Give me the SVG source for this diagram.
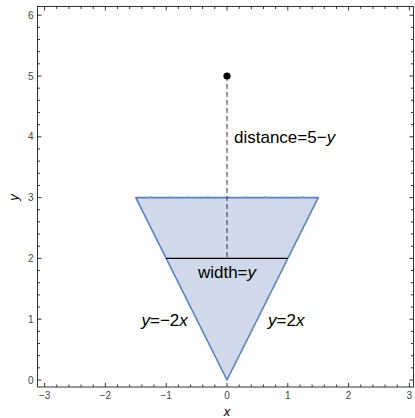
<svg xmlns="http://www.w3.org/2000/svg" width="415" height="418" viewBox="0 0 415 418">
<style>
.frame{fill:none;stroke:#333;stroke-width:1}
.tk{fill:none;stroke:#333;stroke-width:1}
.tl{font-family:"Liberation Sans",Arial,sans-serif;font-size:10px;fill:#444}
.tly{font-family:"Liberation Sans",Arial,sans-serif;font-size:10px;fill:#444;text-anchor:end}
.lab{font-family:"Liberation Sans",Arial,sans-serif;font-size:17px;fill:#000}
.ax{font-family:"Liberation Sans",Arial,sans-serif;font-size:13px;font-style:italic;fill:#000}
.it{font-style:italic}
</style>
<rect width="415" height="418" fill="#fff"/>
<g id="frame">
<rect class="frame" x="37.5" y="6.5" width="376" height="380.5"/>
<path class="tk" d="M44.6 387v-4M105.4 387v-4M166.2 387v-4M227 387v-4M287.8 387v-4M348.6 387v-4M409.4 387v-4M44.6 6.5v4M105.4 6.5v4M166.2 6.5v4M227 6.5v4M287.8 6.5v4M348.6 6.5v4M409.4 6.5v4"/>
<path class="tk" d="M56.76 387v-2.5M68.92 387v-2.5M81.08 387v-2.5M93.24 387v-2.5M117.56 387v-2.5M129.72 387v-2.5M141.88 387v-2.5M154.04 387v-2.5M178.36 387v-2.5M190.52 387v-2.5M202.68 387v-2.5M214.84 387v-2.5M239.16 387v-2.5M251.32 387v-2.5M263.48 387v-2.5M275.64 387v-2.5M299.96 387v-2.5M312.12 387v-2.5M324.28 387v-2.5M336.44 387v-2.5M360.76 387v-2.5M372.92 387v-2.5M385.08 387v-2.5M397.24 387v-2.5M56.76 6.5v2.5M68.92 6.5v2.5M81.08 6.5v2.5M93.24 6.5v2.5M117.56 6.5v2.5M129.72 6.5v2.5M141.88 6.5v2.5M154.04 6.5v2.5M178.36 6.5v2.5M190.52 6.5v2.5M202.68 6.5v2.5M214.84 6.5v2.5M239.16 6.5v2.5M251.32 6.5v2.5M263.48 6.5v2.5M275.64 6.5v2.5M299.96 6.5v2.5M312.12 6.5v2.5M324.28 6.5v2.5M336.44 6.5v2.5M360.76 6.5v2.5M372.92 6.5v2.5M385.08 6.5v2.5M397.24 6.5v2.5"/>
<path class="tk" d="M37.5 380h4M37.5 319.2h4M37.5 258.4h4M37.5 197.6h4M37.5 136.8h4M37.5 76h4M37.5 15.2h4M413.5 380h-4M413.5 319.2h-4M413.5 258.4h-4M413.5 197.6h-4M413.5 136.8h-4M413.5 76h-4M413.5 15.2h-4"/>
<path class="tk" d="M37.5 367.84h2.5M37.5 355.68h2.5M37.5 343.52h2.5M37.5 331.36h2.5M37.5 307.04h2.5M37.5 294.88h2.5M37.5 282.72h2.5M37.5 270.56h2.5M37.5 246.24h2.5M37.5 234.08h2.5M37.5 221.92h2.5M37.5 209.76h2.5M37.5 185.44h2.5M37.5 173.28h2.5M37.5 161.12h2.5M37.5 148.96h2.5M37.5 124.64h2.5M37.5 112.48h2.5M37.5 100.32h2.5M37.5 88.16h2.5M37.5 63.84h2.5M37.5 51.68h2.5M37.5 39.52h2.5M37.5 27.36h2.5M413.5 367.84h-2.5M413.5 355.68h-2.5M413.5 343.52h-2.5M413.5 331.36h-2.5M413.5 307.04h-2.5M413.5 294.88h-2.5M413.5 282.72h-2.5M413.5 270.56h-2.5M413.5 246.24h-2.5M413.5 234.08h-2.5M413.5 221.92h-2.5M413.5 209.76h-2.5M413.5 185.44h-2.5M413.5 173.28h-2.5M413.5 161.12h-2.5M413.5 148.96h-2.5M413.5 124.64h-2.5M413.5 112.48h-2.5M413.5 100.32h-2.5M413.5 88.16h-2.5M413.5 63.84h-2.5M413.5 51.68h-2.5M413.5 39.52h-2.5M413.5 27.36h-2.5"/>
<g class="tl" text-anchor="middle">
<text x="44.6" y="399">−3</text>
<text x="105.4" y="399">−2</text>
<text x="166.2" y="399">−1</text>
<text x="227" y="399">0</text>
<text x="287.8" y="399">1</text>
<text x="348.6" y="399">2</text>
<text x="409.4" y="399">3</text>
</g>
<text class="tly" x="33.5" y="383.6">0</text>
<text class="tly" x="33.5" y="322.8">1</text>
<text class="tly" x="33.5" y="262">2</text>
<text class="tly" x="33.5" y="201.2">3</text>
<text class="tly" x="33.5" y="140.4">4</text>
<text class="tly" x="33.5" y="79.6">5</text>
<text class="tly" x="33.5" y="18.8">6</text>
<text class="ax" x="227" y="416" text-anchor="middle">x</text>
<text class="ax" transform="translate(18 197.5) rotate(-90)" text-anchor="middle">y</text>
</g>
<g id="triangle">
<polygon points="135.8,197.6 318.2,197.6 227,380" fill="#cfd9e9" stroke="#5b80bd" stroke-width="1.6" stroke-linejoin="round"/>
<path d="M151 197.6v-1.8M170 197.6v-1.8M189 197.6v-1.8M208 197.6v-1.8M246 197.6v-1.8M265 197.6v-1.8M284 197.6v-1.8M303 197.6v-1.8" stroke="#7d9bcb" stroke-width="1" fill="none"/>
</g>
<g id="connectors">
<path d="M227 76V258.4" fill="none" stroke="#333" stroke-width="1" stroke-dasharray="5,3"/>
<path d="M166.2 258.4H287.8" fill="none" stroke="#000" stroke-width="1.2"/>
</g>
<g id="point">
<circle cx="227" cy="76" r="3.6" fill="#000"/>
</g>
<g id="labels">
<text class="lab" x="234" y="142.5">distance=5−<tspan class="it">y</tspan></text>
<text class="lab" x="227" y="277.5" text-anchor="middle">width=<tspan class="it">y</tspan></text>
<text class="lab" x="141.5" y="325.5"><tspan class="it">y</tspan>=−2<tspan class="it">x</tspan></text>
<text class="lab" x="268" y="325.5"><tspan class="it">y</tspan>=2<tspan class="it">x</tspan></text>
</g>
</svg>
